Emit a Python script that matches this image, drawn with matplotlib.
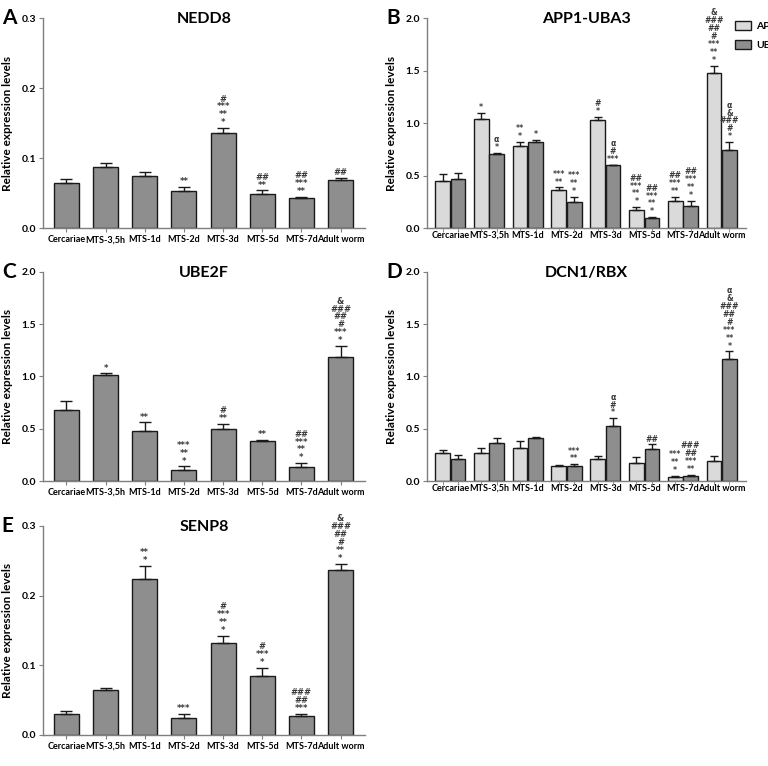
import numpy as np
import matplotlib
matplotlib.use('Agg')
import matplotlib.pyplot as plt

plt.rcParams['font.family'] = ['Lato', 'DejaVu Sans']
plt.rcParams['font.weight'] = 'bold'

stages = ['Cercariae', 'MTS-3,5h', 'MTS-1d', 'MTS-2d', 'MTS-3d', 'MTS-5d', 'MTS-7d', 'Adult worm']

# NEDD8
nedd8 = [0.065, 0.088, 0.075, 0.053, 0.136, 0.049, 0.043, 0.069]
nedd8_err = [0.005, 0.006, 0.005, 0.006, 0.007, 0.005, 0.002, 0.003]
nedd8_sig = ['', '', '', '**', '*,**,***,#', '**,##', '**,***,##', '##']

# APP1-UBA3
app1 = [0.45, 1.04, 0.78, 0.36, 1.03, 0.17, 0.26, 1.48]
app1_err = [0.07, 0.06, 0.04, 0.03, 0.03, 0.03, 0.04, 0.07]
app1_sig = ['', '*', '*,**', '**,***', '*,#', '*,**,***,##', '**,***,##',
            '*,**,***,#,##,###,&']
uba3 = [0.47, 0.71, 0.82, 0.25, 0.60, 0.10, 0.21, 0.75]
uba3_err = [0.06, 0.005, 0.02, 0.05, 0.005, 0.005, 0.05, 0.07]
uba3_sig = ['', '*,α', '*', '*,**,***', '***,#,α', '*,**,***,##', '*,**,***,##',
            '*,#,###,&,α']

# UBE2F
ube2f = [0.68, 1.01, 0.48, 0.11, 0.50, 0.38, 0.13, 1.19]
ube2f_err = [0.09, 0.02, 0.08, 0.03, 0.05, 0.01, 0.04, 0.10]
ube2f_sig = ['', '*', '**', '*,**,***', '**,#', '**', '*,**,***,##',
             '*,***,#,##,###,&']

# DCN1/RBX
dcn1 = [0.27, 0.27, 0.32, 0.14, 0.21, 0.17, 0.04, 0.19]
dcn1_err = [0.03, 0.05, 0.06, 0.01, 0.03, 0.06, 0.01, 0.05]
dcn1_sig = ['', '', '', '', '', '', '*,**,***', '']
rbx = [0.21, 0.36, 0.41, 0.14, 0.53, 0.31, 0.05, 1.17]
rbx_err = [0.04, 0.05, 0.01, 0.02, 0.07, 0.04, 0.01, 0.07]
rbx_sig = ['', '', '', '**,***', '*,#,α', '##', '**,***,##,###',
           '*,**,***,#,##,###,&,α']

# SENP8
senp8 = [0.030, 0.064, 0.224, 0.025, 0.132, 0.084, 0.027, 0.236]
senp8_err = [0.004, 0.003, 0.019, 0.005, 0.010, 0.012, 0.003, 0.010]
senp8_sig = ['', '', '*,**', '***', '*,**,***,#', '*,***,#', '***,##,###',
             '*,**,#,##,###,&']

DARK = '#8e8e8e'
LIGHT = '#dadada'
EDGE = '#1a1a1a'
SPINE = '#7f7f7f'


def annotate(ax, xs, vals, errs, sigs, ymax, size=6.0):
    for x, v, e, s in zip(xs, vals, errs, sigs):
        if not s:
            continue
        lines = s.split(',')[::-1]
        ax.text(x, v + e + ymax * 0.004, '\n'.join(lines), ha='center', va='bottom',
                fontsize=size, linespacing=0.85, color='#3a3a3a', fontweight='bold',
                family='DejaVu Sans')


def style(ax, title, letter, ymax, yticks, fmt):
    ax.set_ylim(0, ymax)
    ax.set_xlim(-0.6, 7.62)
    ax.set_yticks(yticks)
    ax.set_yticklabels([fmt.format(t) for t in yticks], fontsize=7.5, fontweight='bold')
    ax.set_xticks(range(len(stages)))
    ax.set_xticklabels(stages, fontsize=6.5, fontweight='bold')
    for sp in ['top', 'right']:
        ax.spines[sp].set_visible(False)
    for sp in ['left', 'bottom']:
        ax.spines[sp].set_color(SPINE)
        ax.spines[sp].set_linewidth(1.0)
    ax.tick_params(axis='both', direction='out', color=SPINE, length=3, pad=2)
    ax.set_ylabel('Relative expression levels', fontsize=8.5, fontweight='bold', labelpad=6)
    ax.text(0.5, 0.995, title, transform=ax.transAxes, fontsize=11.5, fontweight='bold',
            ha='center', va='center')
    ax.text(-0.128, 1.0, letter, transform=ax.transAxes, fontsize=15, fontweight='bold',
            va='center', ha='left')


def single(ax, vals, errs, sigs, title, letter, ymax, yticks, fmt):
    x = np.arange(len(stages))
    ax.bar(x, vals, width=0.64, color=DARK, edgecolor=EDGE, linewidth=1.0, zorder=2)
    ax.errorbar(x, vals, yerr=[np.zeros(len(vals)), errs], fmt='none', ecolor=EDGE,
                elinewidth=1.0, capsize=4, capthick=1.0, zorder=3)
    annotate(ax, x, vals, errs, sigs, ymax)
    style(ax, title, letter, ymax, yticks, fmt)


def paired(ax, v1, e1, s1, v2, e2, s2, title, letter, ymax, yticks, fmt):
    x = np.arange(len(stages))
    w = 0.38
    b1 = ax.bar(x - w / 2 - 0.01, v1, width=w, color=LIGHT, edgecolor=EDGE, linewidth=1.0, zorder=2)
    b2 = ax.bar(x + w / 2 + 0.01, v2, width=w, color=DARK, edgecolor=EDGE, linewidth=1.0, zorder=2)
    ax.errorbar(x - w / 2 - 0.01, v1, yerr=[np.zeros(len(v1)), e1], fmt='none', ecolor=EDGE,
                elinewidth=1.0, capsize=3, capthick=1.0, zorder=3)
    ax.errorbar(x + w / 2 + 0.01, v2, yerr=[np.zeros(len(v2)), e2], fmt='none', ecolor=EDGE,
                elinewidth=1.0, capsize=3, capthick=1.0, zorder=3)
    annotate(ax, x - w / 2 - 0.01, v1, e1, s1, ymax, size=5.6)
    annotate(ax, x + w / 2 + 0.01, v2, e2, s2, ymax, size=5.6)
    style(ax, title, letter, ymax, yticks, fmt)
    ax.set_xticks(np.concatenate([x - w / 2 - 0.01, x + w / 2 + 0.01]), minor=True)
    ax.tick_params(axis='x', which='minor', direction='out', color=SPINE, length=3)
    ax.tick_params(axis='x', which='major', length=0)
    return b1, b2


fig = plt.figure(figsize=(7.68, 7.66), dpi=100)
axA = fig.add_axes([0.056, 0.702, 0.419, 0.274])
axB = fig.add_axes([0.556, 0.702, 0.415, 0.274])
axC = fig.add_axes([0.056, 0.372, 0.419, 0.273])
axD = fig.add_axes([0.556, 0.372, 0.415, 0.273])
axE = fig.add_axes([0.056, 0.0405, 0.419, 0.273])

single(axA, nedd8, nedd8_err, nedd8_sig, 'NEDD8', 'A', 0.3, [0.0, 0.1, 0.2, 0.3], '{:.1f}')
b1, b2 = paired(axB, app1, app1_err, app1_sig, uba3, uba3_err, uba3_sig, 'APP1-UBA3', 'B',
                2.0, [0.0, 0.5, 1.0, 1.5, 2.0], '{:.1f}')
single(axC, ube2f, ube2f_err, ube2f_sig, 'UBE2F', 'C', 2.0, [0.0, 0.5, 1.0, 1.5, 2.0], '{:.1f}')
paired(axD, dcn1, dcn1_err, dcn1_sig, rbx, rbx_err, rbx_sig, 'DCN1/RBX', 'D',
       2.0, [0.0, 0.5, 1.0, 1.5, 2.0], '{:.1f}')
single(axE, senp8, senp8_err, senp8_sig, 'SENP8', 'E', 0.3, [0.0, 0.1, 0.2, 0.3], '{:.1f}')

fig.legend([b1, b2], ['APP1', 'UBA3'], loc='upper left', bbox_to_anchor=(0.948, 0.982),
           frameon=False, fontsize=7.5, handlelength=1.5, handleheight=0.9,
           handletextpad=0.5, labelspacing=0.9, borderpad=0.2)

fig.savefig('out.png', dpi=100)
